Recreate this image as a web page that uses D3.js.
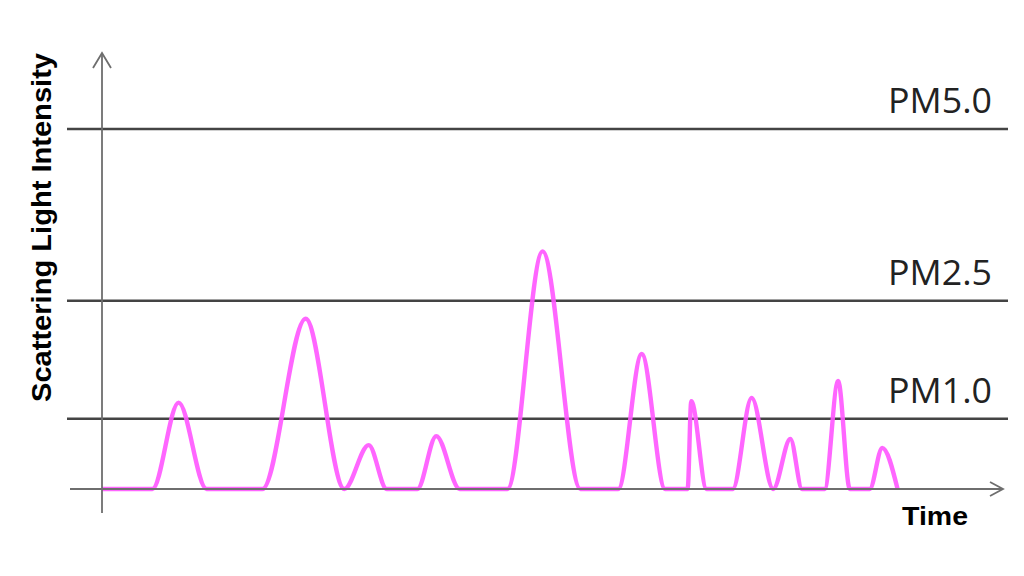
<!DOCTYPE html>
<html>
<head>
<meta charset="utf-8">
<script src="https://cdn.jsdelivr.net/npm/d3@7"></script>
<style>
  html, body { margin: 0; padding: 0; background: #fff; }
  svg { display: block; }
</style>
</head>
<body>
<svg id="chart" width="1024" height="576"></svg>
<script>
// ---- data (time in arbitrary units 0..100, intensity 0..100) ----
const thresholdNames  = ["PM1.0", "PM2.5", "PM5.0"];
const thresholdValues = [19.5, 52.3, 100];

// each pulse: start time, peak time, end time, peak intensity
const pulseStart  = [5.6, 17.8, 26.9, 35.0, 45.0, 57.3, 65.0, 70.0, 74.5, 80.2, 85.2];
const pulsePeak   = [8.5, 22.6, 29.6, 37.1, 48.9, 59.9, 65.4, 72.1, 76.4, 81.7, 86.6];
const pulseEnd    = [11.6, 26.9, 31.6, 39.7, 53.1, 62.5, 67.1, 74.5, 77.7, 83.0, 88.3];
const pulseHeight = [24.0, 47.3, 12.2, 14.7, 66.0, 37.5, 24.4, 25.3, 13.9, 30.0, 11.4];

const xTitle = "Time";
const yTitle = "Scattering Light Intensity";

// ---- layout ----
const svg = d3.select("#chart");
const x = d3.scaleLinear().domain([0, 100]).range([102, 1003]);
const y = d3.scaleLinear().domain([0, 100]).range([489, 129]);

// build signal points from the pulse arrays
const pts = [[0, 0]];
pulseStart.forEach((s, i) => {
  const last = pts[pts.length - 1];
  if (Math.abs(last[0] - s) > 1e-9) pts.push([s, 0]);
  pts.push([pulsePeak[i], pulseHeight[i]]);
  pts.push([pulseEnd[i], 0]);
});

// threshold lines
const thr = svg.append("g");
thresholdValues.forEach((v, i) => {
  thr.append("line")
    .attr("x1", 67).attr("x2", 1008)
    .attr("y1", y(v)).attr("y2", y(v))
    .attr("stroke", "#444").attr("stroke-width", 2.6);
  thr.append("text")
    .attr("x", 992).attr("y", y(v) - 16)
    .attr("text-anchor", "end")
    .attr("font-family", "'Open Sans', 'Liberation Sans', sans-serif")
    .attr("font-size", 35)
    .attr("textLength", 104).attr("lengthAdjust", "spacingAndGlyphs")
    .attr("fill", "#222")
    .text(thresholdNames[i]);
});

// signal
const line = d3.line()
  .x(d => x(d[0])).y(d => y(d[1]))
  .curve(d3.curveMonotoneX);
svg.append("path")
  .attr("d", line(pts))
  .attr("fill", "none")
  .attr("stroke", "#ff55ff")
  .attr("stroke-opacity", 0.9)
  .attr("stroke-width", 4.4)
  .attr("stroke-linejoin", "round");

// axes
const axisColor = "#6e6e6e";
// x axis
svg.append("line")
  .attr("x1", 70).attr("x2", x(100))
  .attr("y1", y(0)).attr("y2", y(0))
  .attr("stroke", axisColor).attr("stroke-width", 1.8);
svg.append("path")
  .attr("d", `M${x(100) - 13},${y(0) - 7}L${x(100)},${y(0)}L${x(100) - 13},${y(0) + 7}`)
  .attr("fill", "none").attr("stroke", axisColor).attr("stroke-width", 1.8);
// y axis
svg.append("line")
  .attr("x1", x(0)).attr("x2", x(0))
  .attr("y1", 513).attr("y2", 53)
  .attr("stroke", axisColor).attr("stroke-width", 1.8);
svg.append("path")
  .attr("d", `M${x(0) - 9},68L${x(0)},53L${x(0) + 9},68`)
  .attr("fill", "none").attr("stroke", axisColor).attr("stroke-width", 1.8);

// titles
svg.append("text")
  .attr("x", 968).attr("y", 525)
  .attr("text-anchor", "end")
  .attr("font-family", "'Liberation Sans', Arial, sans-serif")
  .attr("font-weight", "bold")
  .attr("font-size", 25)
  .attr("textLength", 66).attr("lengthAdjust", "spacingAndGlyphs")
  .attr("fill", "#000")
  .text(xTitle);

svg.append("text")
  .attr("transform", "translate(51,227.5) rotate(-90)")
  .attr("text-anchor", "middle")
  .attr("font-family", "'Liberation Sans', Arial, sans-serif")
  .attr("font-weight", "bold")
  .attr("font-size", 27)
  .attr("textLength", 349).attr("lengthAdjust", "spacingAndGlyphs")
  .attr("fill", "#000")
  .text(yTitle);
</script>
</body>
</html>
